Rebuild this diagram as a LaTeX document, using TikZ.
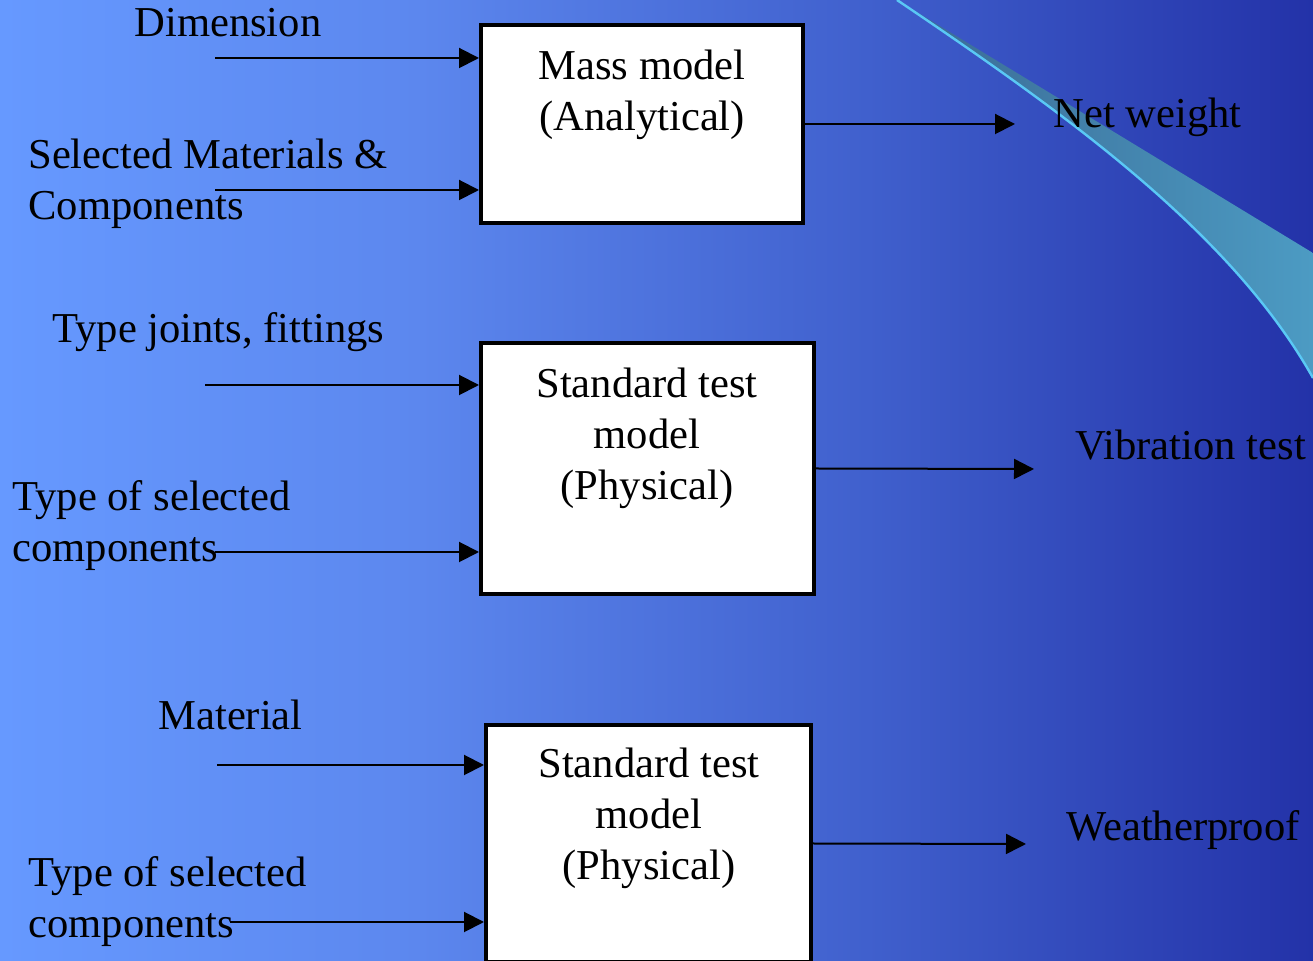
\documentclass[tikz,border=0pt]{standalone}
\usepackage{fontspec}
\setmainfont{Liberation Serif}
\usetikzlibrary{arrows.meta,positioning}
\definecolor{bgleft}{RGB}{102,153,255}
\definecolor{bgmid}{RGB}{92,135,238}
\definecolor{bgdeep}{RGB}{64,96,205}
\definecolor{bgright}{RGB}{35,50,168}
\definecolor{swoosh}{RGB}{90,200,245}
\definecolor{tealdark}{RGB}{58,105,148}
\definecolor{teallight}{RGB}{76,155,195}
\pgfdeclarehorizontalshading{slidebg}{100bp}{color(0bp)=(bgleft); color(25bp)=(bgleft); color(41bp)=(bgmid); color(58bp)=(bgdeep); color(75bp)=(bgright); color(100bp)=(bgright)}

\begin{document}
\begin{tikzpicture}[x=0.5pt,y=-0.5pt,
    txt/.style={inner sep=0pt, font=\fontsize{21.3}{25.5}\selectfont},
    lbl/.style={txt, anchor=base west, align=left},
    inbox/.style={txt, anchor=base, align=center},
    block/.style={draw, line width=2pt, fill=white, inner sep=0pt},
    arr/.style={line width=1pt, -{Triangle[length=10pt,width=10pt]}}]
  \useasboundingbox (0,0) rectangle (1313,961);
  \clip (0,0) rectangle (1313,961);
  \shade[shading=slidebg] (0,0) rectangle (1313,961);
  % corner decoration
  \shade[left color=tealdark, right color=teallight] (897,0) .. controls (1060,110) and (1230,230) .. (1313,378) -- (1313,253) -- cycle;
  \draw[swoosh, line width=1.2pt] (897,0) .. controls (1060,110) and (1230,230) .. (1313,378);

  % mass model
  \node[block, minimum width=161pt, minimum height=99pt] (mass) at (642,124) {};
  \node[inbox] (masstxt) at (642,131) {Mass model\\(Analytical)};
  \node[lbl] (dim) at (134,37) {Dimension};
  \node[lbl] (selmat) at (28,220) {Selected Materials \&\\Components};
  \coordinate (dimin) at (215,58);
  \coordinate (selin) at (215,190);
  \draw[arr] (dimin) -- (dimin -| mass.west);
  \draw[arr] (selin) -- (selin -| mass.west);
  \coordinate (netout) at (1015,124);
  \draw[arr] (mass.east) -- (netout);
  \node[lbl] (net) at (1053,128) {Net weight};

  % vibration
  \node[block, minimum width=166.5pt, minimum height=125.5pt] (vib) at (647.5,468.5) {};
  \node[inbox] (vibtxt) at (647,500) {Standard test\\model\\(Physical)};
  \node[lbl] (joints) at (52,343) {Type joints, fittings};
  \node[lbl] (typea) at (12,562) {Type of selected\\components};
  \coordinate (jointin) at (205,385);
  \coordinate (typeain) at (215,552);
  \draw[arr] (jointin) -- (jointin -| vib.west);
  \draw[arr] (typeain) -- (typeain -| vib.west);
  \coordinate (vibout) at (1034,469);
  \draw[arr] (vib.east) -- (vibout);
  \node[lbl] (vibl) at (1075,460) {Vibration test};

  % weatherproof
  \node[block, minimum width=162.5pt, minimum height=118.5pt] (wea) at (648.5,843.5) {};
  \node[inbox] (weatxt) at (649,880) {Standard test\\model\\(Physical)};
  \node[lbl] (mat) at (158,730) {Material};
  \node[lbl] (typeb) at (28,938) {Type of selected\\components};
  \coordinate (matin) at (217,765);
  \coordinate (typebin) at (230,922);
  \draw[arr] (matin) -- (matin -| wea.west);
  \draw[arr] (typebin) -- (typebin -| wea.west);
  \coordinate (weaout) at (1026,844);
  \draw[arr] (wea.east) -- (weaout);
  \node[lbl] (weal) at (1066,841) {Weatherproof};
\end{tikzpicture}
\end{document}
